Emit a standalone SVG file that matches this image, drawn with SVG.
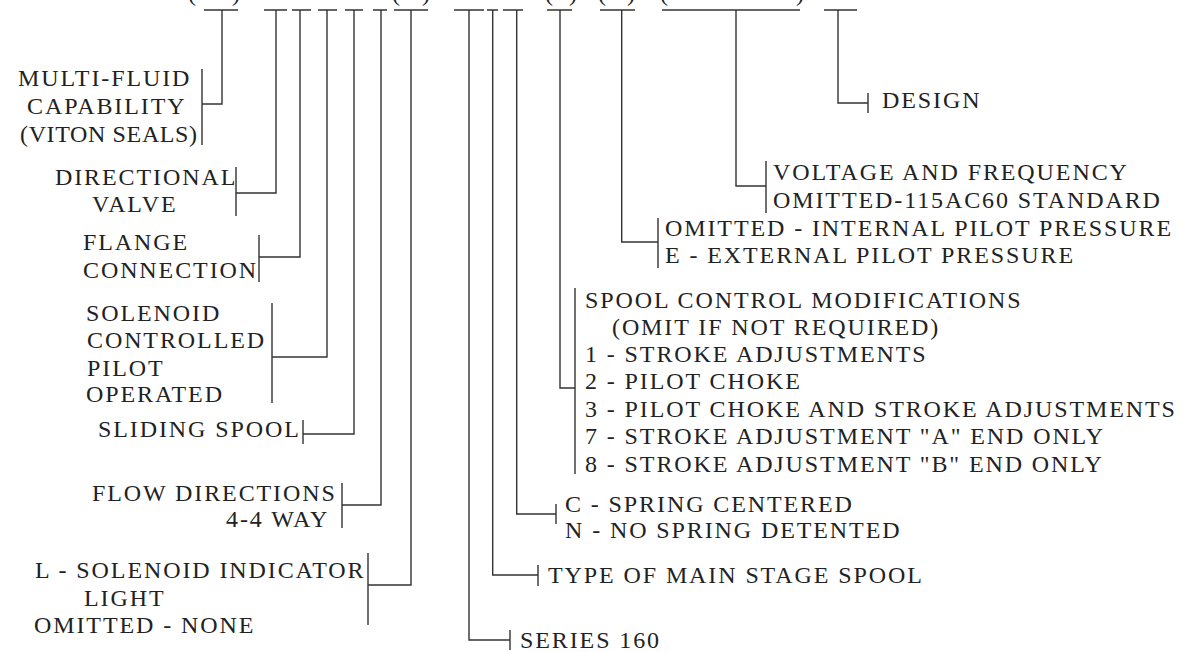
<svg xmlns="http://www.w3.org/2000/svg" width="1199" height="652" viewBox="0 0 1199 652">
<style>
.t{font-family:"Liberation Serif","DejaVu Serif",serif;font-size:24px;letter-spacing:1.9px;fill:#222}
.l{stroke:#333;stroke-width:1.4;fill:none}
</style>
<rect width="1199" height="652" fill="#fff"/>
<g id="code-top">
<text class="t" x="188" y="1">(</text><text class="t" x="232" y="1">)</text>
<text class="t" x="392" y="1">(</text><text class="t" x="422" y="1">)</text>
<text class="t" x="545" y="1">(</text><text class="t" x="569" y="1">)</text>
<text class="t" x="598" y="1">(</text><text class="t" x="627" y="1">)</text>
<text class="t" x="660" y="1">(</text><text class="t" x="796" y="1">)</text>
</g>
<g id="connectors" class="l">
<path d="M204 10H238M264 10H287M292 10H311M318 10H337M345 10H363M373 10H387M394 10H428M454 10H484M487 10H498M503 10H523M547 10H572M600 10H635M662 10H800M824 10H857"/>
<path d="M222 10V104H202M202 69V145"/>
<path d="M276 10V193H236M236 167V216"/>
<path d="M300 10V257H259M259 235V282"/>
<path d="M327 10V357H272M272 303V403"/>
<path d="M354 10V434H303M303 420V444"/>
<path d="M381 10V505H342M342 483V528"/>
<path d="M411 10V585H368M368 553V625"/>
<path d="M469 10V640H510M510 630V650"/>
<path d="M492.7 10V575H538M538 565V586"/>
<path d="M516.7 10V514H556M556 504V524"/>
<path d="M560 10V388H575M575 288V474"/>
<path d="M621.7 10V242H658M658 218V268"/>
<path d="M736 10V186H766M766 161V213"/>
<path d="M838 10V103H868M868 93V113"/>
</g>
<g id="multi-fluid"><text class="t" x="18" y="86">MULTI-FLUID</text><text class="t" x="27" y="114">CAPABILITY</text><text class="t" x="20" y="142" textLength="179" lengthAdjust="spacing">(VITON SEALS)</text></g>
<g id="directional"><text class="t" x="55" y="185">DIRECTIONAL</text><text class="t" x="92" y="212">VALVE</text></g>
<g id="flange"><text class="t" x="83" y="250">FLANGE</text><text class="t" x="83" y="278">CONNECTION</text></g>
<g id="solenoid"><text class="t" x="86" y="321">SOLENOID</text><text class="t" x="87" y="348">CONTROLLED</text><text class="t" x="87" y="376">PILOT</text><text class="t" x="86" y="402">OPERATED</text></g>
<g id="sliding"><text class="t" x="98" y="437">SLIDING SPOOL</text></g>
<g id="flow"><text class="t" x="92" y="501">FLOW DIRECTIONS</text><text class="t" x="226" y="527">4-4 WAY</text></g>
<g id="light"><text class="t" x="35" y="578">L - SOLENOID INDICATOR</text><text class="t" x="84" y="606">LIGHT</text><text class="t" x="34" y="633">OMITTED - NONE</text></g>
<g id="series"><text class="t" x="520" y="648">SERIES 160</text></g>
<g id="type"><text class="t" x="548" y="583">TYPE OF MAIN STAGE SPOOL</text></g>
<g id="spring"><text class="t" x="565" y="512">C - SPRING CENTERED</text><text class="t" x="565" y="538">N - NO SPRING DETENTED</text></g>
<g id="spool-control">
<text class="t" x="585" y="308">SPOOL CONTROL MODIFICATIONS</text>
<text class="t" x="612" y="335">(OMIT IF NOT REQUIRED)</text>
<text class="t" x="585" y="362">1 - STROKE ADJUSTMENTS</text>
<text class="t" x="585" y="389">2 - PILOT CHOKE</text>
<text class="t" x="585" y="417">3 - PILOT CHOKE AND STROKE ADJUSTMENTS</text>
<text class="t" x="585" y="444">7 - STROKE ADJUSTMENT "A" END ONLY</text>
<text class="t" x="585" y="472">8 - STROKE ADJUSTMENT "B" END ONLY</text>
</g>
<g id="pilot-pressure"><text class="t" x="665" y="236">OMITTED - INTERNAL PILOT PRESSURE</text><text class="t" x="665" y="263">E - EXTERNAL PILOT PRESSURE</text></g>
<g id="voltage"><text class="t" x="773" y="180">VOLTAGE AND FREQUENCY</text><text class="t" x="773" y="208">OMITTED-115AC60 STANDARD</text></g>
<g id="design"><text class="t" x="882" y="108">DESIGN</text></g>
</svg>
